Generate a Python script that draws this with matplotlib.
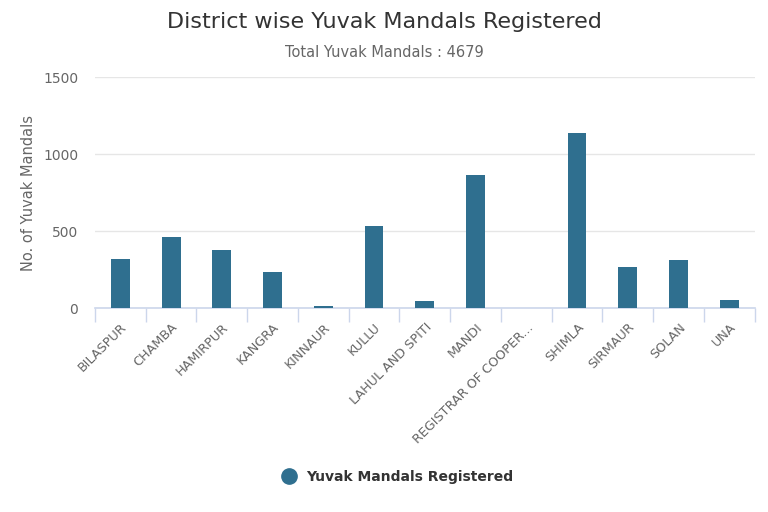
import matplotlib
matplotlib.use('Agg')
import matplotlib.pyplot as plt
import matplotlib.transforms as mtransforms
import numpy as np
from matplotlib.lines import Line2D

districts = ['BILASPUR', 'CHAMBA', 'HAMIRPUR', 'KANGRA', 'KINNAUR', 'KULLU',
             'LAHUL AND SPITI', 'MANDI', 'REGISTRAR OF COOPER...', 'SHIMLA',
             'SIRMAUR', 'SOLAN', 'UNA']
registered = [320, 464, 379, 236, 12, 535, 44, 863, 0, 1139, 268, 314, 51]
total = 4679

bar_color = '#2f6f8f'
plt.rcParams['font.family'] = ['DejaVu Sans']

fig = plt.figure(figsize=(7.68, 5.12), dpi=100)
ax = fig.add_axes([0.1237, 0.398, 0.859, 0.4516])

x = np.arange(len(districts))
ax.bar(x, registered, width=0.37, color=bar_color, zorder=3)

ax.set_xlim(-0.5, len(districts) - 0.5)
ax.set_ylim(0, 1500)
ax.set_yticks([0, 500, 1000, 1500])
ax.grid(axis='y', color='#e6e6e6', linewidth=1, zorder=0)

for s in ['top', 'right', 'left']:
    ax.spines[s].set_visible(False)
ax.spines['bottom'].set_color('#ccd6eb')
ax.spines['bottom'].set_linewidth(1.2)

ax.set_xticks(x)
ax.set_xticklabels(districts, rotation=45, ha='right', rotation_mode='anchor',
                   fontsize=9.2, color='#666666')
# nudge rotated labels a little left, like the original
shift = mtransforms.ScaledTranslation(-4 / 72, 0, fig.dpi_scale_trans)
for lbl in ax.get_xticklabels():
    lbl.set_transform(lbl.get_transform() + shift)
ax.set_xticks(np.arange(-0.5, len(districts)), minor=True)
ax.tick_params(axis='x', which='major', length=0, pad=9)
ax.tick_params(axis='x', which='minor', length=10, color='#ccd6eb', width=1)
ax.tick_params(axis='y', length=0, labelsize=10, labelcolor='#666666', pad=12)

ax.set_ylabel('No. of Yuvak Mandals', fontsize=10.5, color='#666666', labelpad=5)

fig.text(0.5, 0.958, 'District wise Yuvak Mandals Registered', ha='center', va='center',
         fontsize=16, color='#333333')
fig.text(0.5, 0.898, 'Total Yuvak Mandals : %d' % total, ha='center', va='center',
         fontsize=10.5, color='#666666')

handle = Line2D([], [], marker='o', linestyle='none', markersize=11,
                markerfacecolor=bar_color, markeredgecolor=bar_color)
leg = fig.legend([handle], ['Yuvak Mandals Registered'], loc='center',
                 bbox_to_anchor=(0.513, 0.068), frameon=False, handletextpad=0.2,
                 prop={'weight': 'bold', 'size': 10})
for t in leg.get_texts():
    t.set_color('#333333')

fig.savefig('out.png', dpi=100)
